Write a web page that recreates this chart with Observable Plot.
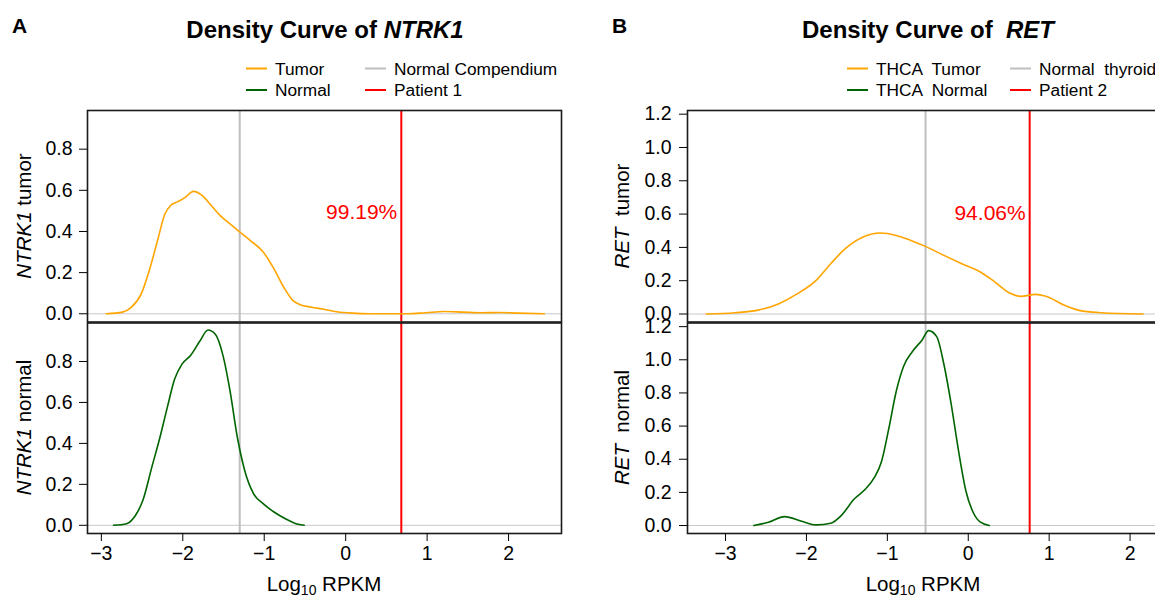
<!DOCTYPE html>
<html><head><meta charset="utf-8">
<script src="https://cdn.jsdelivr.net/npm/d3@7"></script>
<script src="https://cdn.jsdelivr.net/npm/@observablehq/plot@0.6"></script>
<style>
html,body{margin:0;padding:0;background:#fff;overflow:hidden;}
#root{position:relative;width:1155px;height:599px;overflow:hidden;background:#fff;}
#root svg{position:absolute;}
</style></head><body><div id="root"></div>
<script>
const FONT = '"Liberation Sans", Arial, Helvetica, sans-serif';

// ---- Panel A: NTRK1 ----
const ntrkTumorX = [-2.94,-2.74,-2.63,-2.51,-2.40,-2.31,-2.22,-2.15,-2.06,-1.97,-1.87,-1.76,-1.65,-1.54,-1.42,-1.31,-1.17,-1.01,-0.88,-0.76,-0.65,-0.56,-0.42,-0.27,-0.11,0.08,0.30,0.76,0.98,1.21,1.44,1.66,1.89,2.12,2.44];
const ntrkTumorY = [0,0.008,0.032,0.097,0.226,0.356,0.485,0.526,0.545,0.566,0.595,0.574,0.526,0.477,0.437,0.401,0.356,0.299,0.218,0.129,0.065,0.044,0.032,0.022,0.010,0.003,0.0,0.0,0.005,0.011,0.008,0.005,0.006,0.003,0.0];
const ntrkNormalX = [-2.85,-2.69,-2.58,-2.49,-2.38,-2.28,-2.19,-2.10,-2.01,-1.90,-1.79,-1.69,-1.60,-1.51,-1.42,-1.33,-1.24,-1.13,-1.01,-0.88,-0.74,-0.61,-0.51];
const ntrkNormalY = [0,0.008,0.049,0.122,0.284,0.430,0.576,0.714,0.787,0.832,0.900,0.954,0.933,0.835,0.657,0.430,0.268,0.154,0.105,0.065,0.032,0.008,0];
const ntrkCompendium = -1.301;
const ntrkPatient = 0.683;
const ntrkPct = "99.19%";

// ---- Panel B: RET ----
const retTumorX = [-3.24,-2.88,-2.61,-2.34,-2.11,-1.88,-1.70,-1.52,-1.30,-1.09,-0.89,-0.71,-0.53,-0.30,-0.08,0.15,0.33,0.51,0.65,0.83,0.96,1.19,1.37,1.64,2.16];
const retTumorY = [0,0.008,0.022,0.062,0.122,0.202,0.302,0.392,0.462,0.486,0.472,0.442,0.406,0.352,0.302,0.252,0.192,0.126,0.106,0.118,0.106,0.052,0.022,0.008,0];
const retNormalX = [-2.65,-2.47,-2.27,-2.06,-1.88,-1.70,-1.57,-1.41,-1.27,-1.16,-1.07,-0.98,-0.89,-0.80,-0.69,-0.57,-0.49,-0.39,-0.30,-0.21,-0.12,-0.03,0.06,0.15,0.26];
const retNormalY = [0,0.02,0.054,0.026,0.004,0.014,0.06,0.16,0.22,0.29,0.39,0.59,0.81,0.96,1.05,1.12,1.176,1.14,0.97,0.73,0.45,0.21,0.08,0.02,0];
const retThyroid = -0.528;
const retPatient = 0.759;
const retPct = "94.06%";

// ---- ticks ----
const xTicks = [-3,-2,-1,0,1,2];
const yTicksA = [0,0.2,0.4,0.6,0.8];
const yTicksB = [0,0.2,0.4,0.6,0.8,1.0,1.2];

const COL = {tumor:"#FFA500", normal:"#006400", grey:"#BEBEBE", red:"#FF0000", zero:"#C8C8C8", frame:"#1a1a1a"};

const root = document.getElementById("root");

function subplot(o){
  const tbl = o.xs.map((x,i)=>({x, y:o.ys[i]}));
  const marks = [
    Plot.ruleY([0], {stroke: COL.zero, strokeWidth: 1}),
    Plot.ruleX([o.greyX], {stroke: COL.grey, strokeWidth: 2}),
    Plot.ruleX([o.redX], {stroke: COL.red, strokeWidth: 2}),
    Plot.line(tbl, {x:"x", y:"y", stroke:o.color, strokeWidth:1.6, curve:"monotone-x"}),
    Plot.frame({stroke: COL.frame, strokeWidth: 1.6}),
    Plot.axisY({ticks:o.yTicks, tickFormat:d3.format(".1f"), tickSize:8, tickPadding:o.tickPadY, fontSize:19.5, label:null})
  ];
  if (o.showX) marks.push(Plot.axisX({ticks:xTicks, tickFormat:d3.format("d"), tickSize:8, tickPadding:5, fontSize:19.5, label:null}));
  if (o.pct) marks.push(Plot.text([o.pct], {x:"x", y:"y", text:"t", textAnchor:"end", dx:-4, fill:COL.red, fontSize:21}));
  const p = Plot.plot({
    width:o.width, height:o.height,
    marginLeft:o.ml, marginRight:o.mr, marginTop:o.mt, marginBottom:o.mb,
    x:{domain:o.xDomain, axis: o.showX ? undefined : null},
    y:{domain:o.yDomain},
    style:{background:"transparent", overflow:"visible", fontFamily:FONT, fontSize:"19.5px", color:"#000"},
    marks
  });
  d3.select(p).selectAll('g[aria-label$="tick label"], g[aria-label$="tick label"] text')
    .style("font-size","19.5px").style("font-family",FONT);
  p.style.left = o.left + "px";
  p.style.top = o.top + "px";
  root.appendChild(p);
}

const domA = [-3.17, 2.65], yDomA = [-0.04, 0.988];
const domB = [-3.47, 2.376], yDomB = [-0.048, 1.222];

subplot({xs:ntrkTumorX, ys:ntrkTumorY, color:COL.tumor, xDomain:domA, yDomain:yDomA, yTicks:yTicksA, tickPadY:7,
  left:0, top:100, width:580, height:226, ml:87, mr:19, mt:10, mb:4.5, greyX:ntrkCompendium, redX:ntrkPatient, showX:false,
  pct:{x:ntrkPatient, y:0.493, t:ntrkPct}});
subplot({xs:ntrkNormalX, ys:ntrkNormalY, color:COL.normal, xDomain:domA, yDomain:yDomA, yTicks:yTicksA, tickPadY:7,
  left:0, top:318, width:580, height:281, ml:87, mr:19, mt:4.5, mb:66, greyX:ntrkCompendium, redX:ntrkPatient, showX:true});
subplot({xs:retTumorX, ys:retTumorY, color:COL.tumor, xDomain:domB, yDomain:yDomB, yTicks:yTicksB, tickPadY:8,
  left:580, top:100, width:580, height:226, ml:107, mr:0, mt:10, mb:4.5, greyX:retThyroid, redX:retPatient, showX:false,
  pct:{x:retPatient, y:0.606, t:retPct}});
subplot({xs:retNormalX, ys:retNormalY, color:COL.normal, xDomain:domB, yDomain:yDomB, yTicks:yTicksB, tickPadY:8,
  left:580, top:318, width:580, height:281, ml:107, mr:0, mt:4.5, mb:66, greyX:retThyroid, redX:retPatient, showX:true});

// ---- overlay text: titles, legends, axis titles ----
const svg = d3.select(root).append("svg")
  .attr("width",1155).attr("height",599)
  .style("left","0px").style("top","0px")
  .style("font-family",FONT).style("pointer-events","none");

function mixed(x, y, parts, attrs){
  const t = svg.append("text").attr("x",x).attr("y",y).style("white-space","pre");
  for (const k in attrs) t.attr(k, attrs[k]);
  for (const p of parts){
    const s = t.append("tspan").text(p.t);
    if (p.i) s.attr("font-style","italic");
    if (p.sub) s.attr("font-size", p.sub).attr("dy", p.dy);
    if (p.dy0) s.attr("dy", p.dy0);
  }
  return t;
}

// panel letters
mixed(12, 33, [{t:"A"}], {"font-size":21, "font-weight":"bold"});
mixed(612, 33, [{t:"B"}], {"font-size":21, "font-weight":"bold"});
// titles
mixed(325, 38, [{t:"Density Curve of "},{t:"NTRK1", i:true}], {"font-size":24, "font-weight":"bold", "text-anchor":"middle"});
mixed(928, 38, [{t:"Density Curve of  "},{t:"RET", i:true}], {"font-size":24, "font-weight":"bold", "text-anchor":"middle"});

// legends
const legendA = [["Tumor",COL.tumor,246,68.5],["Normal",COL.normal,246,90],["Normal Compendium",COL.grey,365,68.5],["Patient 1",COL.red,365,90]];
const legendB = [["THCA  Tumor",COL.tumor,847,68.5],["THCA  Normal",COL.normal,847,90],["Normal  thyroid",COL.grey,1010,68.5],["Patient 2",COL.red,1010,90]];
for (const [lab,c,x,y] of legendA.concat(legendB)){
  svg.append("line").attr("x1",x).attr("x2",x+21).attr("y1",y).attr("y2",y).attr("stroke",c).attr("stroke-width",2);
  mixed(x+29, y+6.3, [{t:lab}], {"font-size":17.3});
}

// y-axis titles (rotated)
function ytitle(x, y, parts){
  const t = mixed(0, 0, parts, {"font-size":20.5, "text-anchor":"middle"});
  t.attr("transform", `translate(${x},${y}) rotate(-90)`);
}
ytitle(31, 216, [{t:"NTRK1", i:true},{t:" tumor"}]);
ytitle(31, 427.5, [{t:"NTRK1", i:true},{t:" normal"}]);
ytitle(629, 216, [{t:"RET", i:true},{t:"  tumor"}]);
ytitle(629, 427.5, [{t:"RET", i:true},{t:"  normal"}]);

// x-axis titles
mixed(324, 591, [{t:"Log"},{t:"10", sub:14, dy:4},{t:" RPKM", dy0:-4}], {"font-size":20.5, "text-anchor":"middle"});
mixed(923, 591, [{t:"Log"},{t:"10", sub:14, dy:4},{t:" RPKM", dy0:-4}], {"font-size":20.5, "text-anchor":"middle"});
</script></body></html>
